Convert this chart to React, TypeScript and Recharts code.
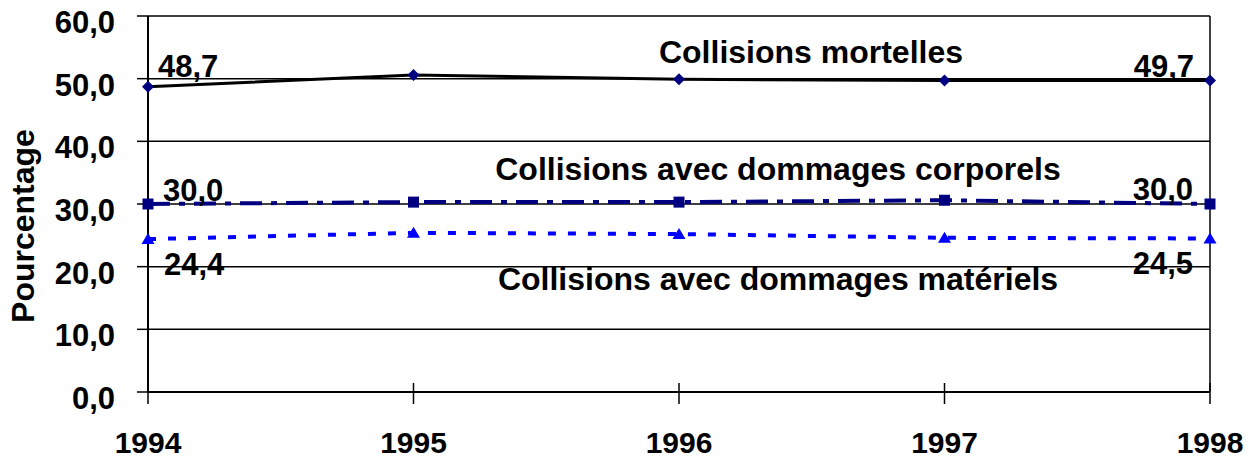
import { CartesianGrid, LabelList, Line, LineChart, ReferenceLine, XAxis, YAxis } from 'recharts';

const years = ['1994', '1995', '1996', '1997', '1998'];
const mortelles = [48.7, 50.6, 49.9, 49.7, 49.7];
const corporels = [30.0, 30.3, 30.3, 30.6, 30.0];
const materiels = [24.4, 25.4, 25.2, 24.6, 24.5];
const yTicks = [0, 10, 20, 30, 40, 50, 60];

const FONT = '"Liberation Sans", Arial, sans-serif';
const NAVY = '#000080';
const BLUE = '#0000ff';

const rows = years.map((year, i) => ({
  year,
  mortelles: mortelles[i],
  corporels: corporels[i],
  materiels: materiels[i],
}));

const fmt = (v: number) => v.toFixed(1).replace('.', ',');

// end labels: [dx, dy, anchor] for first and last point
type EndOffsets = { first: [number, number, 'start' | 'end']; last: [number, number, 'start' | 'end'] };
const mortellesLabels: EndOffsets = { first: [10, -10, 'start'], last: [-16, -4, 'end'] };
const corporelsLabels: EndOffsets = { first: [15, -3, 'start'], last: [-17, -4, 'end'] };
const materielsLabels: EndOffsets = { first: [16, 36, 'start'], last: [-17, 36, 'end'] };

const endLabel = (offsets: EndOffsets) => (props: any) => {
  const { x, y, value, index } = props;
  if (index !== 0 && index !== years.length - 1) return null;
  const [dx, dy, anchor] = index === 0 ? offsets.first : offsets.last;
  return (
    <text x={x + dx} y={y + dy} textAnchor={anchor} fontFamily={FONT} fontWeight="bold" fontSize={31} fill="#000">
      {fmt(value)}
    </text>
  );
};

const Diamond = (props: any) => {
  const { cx, cy } = props;
  if (cx == null || cy == null) return null;
  return <polygon points={`${cx},${cy - 6} ${cx + 6},${cy} ${cx},${cy + 6} ${cx - 6},${cy}`} fill={NAVY} />;
};

const Square = (props: any) => {
  const { cx, cy } = props;
  if (cx == null || cy == null) return null;
  return <rect x={cx - 5.5} y={cy - 5.5} width={11} height={11} fill={NAVY} />;
};

const Triangle = (props: any) => {
  const { cx, cy } = props;
  if (cx == null || cy == null) return null;
  return <polygon points={`${cx},${cy - 6} ${cx + 6.5},${cy + 5} ${cx - 6.5},${cy + 5}`} fill={BLUE} />;
};

const YTick = ({ x, y, payload }: any) => (
  <text x={x} y={y + 17} textAnchor="end" fontFamily={FONT} fontWeight="bold" fontSize={31} fill="#000">
    {fmt(payload.value)}
  </text>
);

// tick mark crosses the axis line, label sits below
const XTick = ({ x, y, payload }: any) => (
  <g>
    <line x1={x} x2={x} y1={y - 51} y2={y - 30} stroke="#000" strokeWidth={1.5} />
    <text x={x} y={y + 19} textAnchor="middle" fontFamily={FONT} fontWeight="bold" fontSize={30} fill="#000">
      {payload.value}
    </text>
  </g>
);

const seriesNames = [
  { text: 'Collisions mortelles', x: 811, y: 63 },
  { text: 'Collisions avec dommages corporels', x: 778, y: 180 },
  { text: 'Collisions avec dommages matériels', x: 778, y: 290 },
];

export default function App() {
  return (
    <div style={{ position: 'absolute', left: 0, top: 0, width: 1254, height: 459, background: '#fff' }}>
      <LineChart width={1254} height={459} data={rows} margin={{ top: 16, right: 44, bottom: 0, left: 0 }}>
        <CartesianGrid vertical={false} stroke="#000" strokeWidth={1.5} strokeOpacity={1} />
        <XAxis
          dataKey="year"
          height={67}
          tickSize={12}
          tickMargin={30}
          tickLine={false}
          tick={<XTick />}
          axisLine={{ stroke: '#000', strokeWidth: 2 }}
          interval={0}
        />
        <YAxis
          width={148}
          domain={[0, 60]}
          ticks={yTicks}
          tickSize={11}
          tickMargin={22}
          tick={<YTick />}
          tickLine={{ stroke: '#000', strokeWidth: 1.5 }}
          axisLine={{ stroke: '#000', strokeWidth: 2 }}
          label={{
            content: () => (
              <text
                x={34}
                y={226}
                transform="rotate(-90 34 226)"
                textAnchor="middle"
                fontFamily={FONT}
                fontWeight="bold"
                fontSize={32}
                fill="#000"
              >
                Pourcentage
              </text>
            ),
          }}
        />
        <ReferenceLine x="1998" stroke="#000" strokeWidth={1.5} />
        <Line
          dataKey="mortelles"
          stroke="#000"
          strokeWidth={3}
          dot={<Diamond />}
          activeDot={false}
          isAnimationActive={false}
        >
          <LabelList dataKey="mortelles" content={endLabel(mortellesLabels)} />
        </Line>
        <Line
          dataKey="corporels"
          stroke={NAVY}
          strokeWidth={4}
          strokeDasharray="22 9 6 9"
          dot={<Square />}
          activeDot={false}
          isAnimationActive={false}
        >
          <LabelList dataKey="corporels" content={endLabel(corporelsLabels)} />
        </Line>
        <Line
          dataKey="materiels"
          stroke={BLUE}
          strokeWidth={4}
          strokeDasharray="8 12"
          dot={<Triangle />}
          activeDot={false}
          isAnimationActive={false}
        >
          <LabelList dataKey="materiels" content={endLabel(materielsLabels)} />
        </Line>
      </LineChart>
      <svg width={1254} height={459} style={{ position: 'absolute', left: 0, top: 0, pointerEvents: 'none' }}>
        {seriesNames.map((s) => (
          <text
            key={s.text}
            x={s.x}
            y={s.y}
            textAnchor="middle"
            fontFamily={FONT}
            fontWeight="bold"
            fontSize={32}
            fill="#000"
          >
            {s.text}
          </text>
        ))}
      </svg>
    </div>
  );
}
